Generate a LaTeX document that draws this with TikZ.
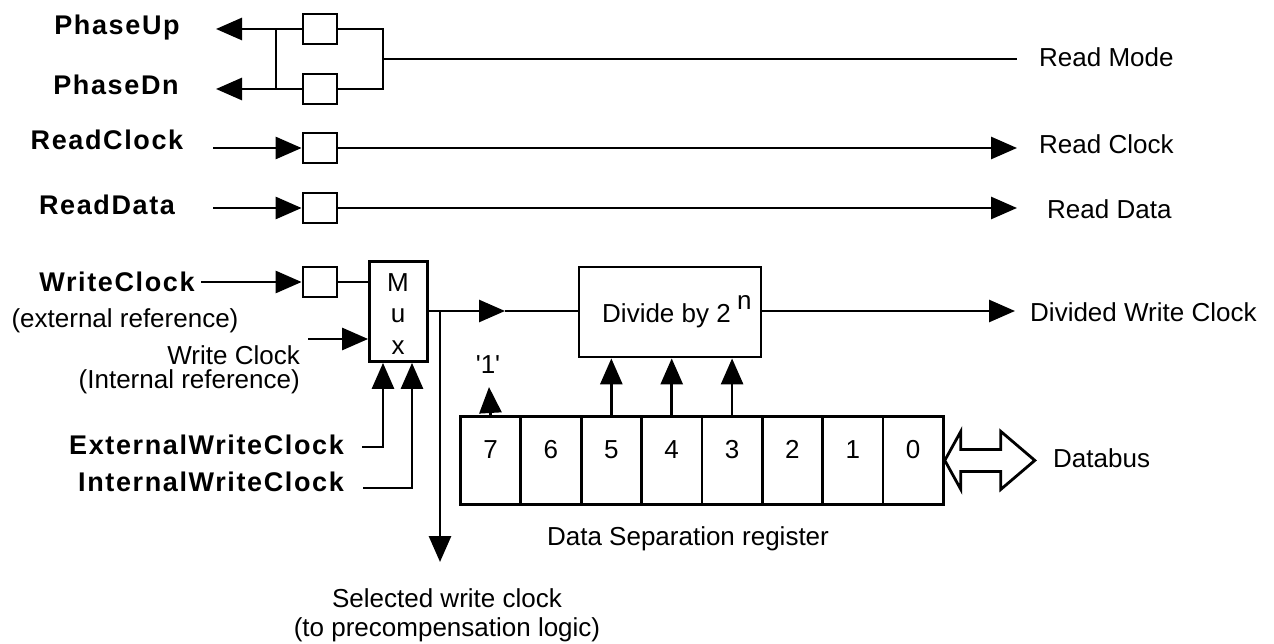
\documentclass[tikz,border=0pt]{standalone}
\usepackage{fontspec}
\setmainfont{Liberation Sans}
\newfontfamily\sigfont[LetterSpace=6]{Liberation Sans Bold}
\usetikzlibrary{arrows.meta}

\begin{document}
\begin{tikzpicture}[x=1pt,y=-1pt,
  wire/.style={line width=2.8pt, line join=miter},
  sig/.style={wire,-{Triangle[length=26pt,width=22pt]}},
  txt/.style={font=\fontsize{26}{30}\selectfont, inner sep=0pt},
  sigtxt/.style={font=\sigfont\fontsize{27}{30}\selectfont, inner sep=0pt},
  latch/.style={draw, wire, minimum width=34pt, minimum height=30pt, inner sep=0pt},
  cell/.style={draw, wire, minimum width=60.375pt, minimum height=88pt, inner sep=0pt, anchor=north west},
]
\useasboundingbox (0,0) rectangle (1274,644);

% ---- latches on the read side
\node[latch] (bU)  at (320,29)  {};
\node[latch] (bD)  at (320,89)  {};
\node[latch] (bRC) at (320,148) {};
\node[latch] (bRD) at (320,208) {};
\node[latch] (bWC) at (320,282) {};

% ---- signal names (left)
\node[sigtxt, anchor=base] (lPU) at (117,35)  {PhaseUp};
\node[sigtxt, anchor=base] (lPD) at (116,95)  {PhaseDn};
\node[sigtxt, anchor=base] (lRC) at (107,150) {ReadClock};
\node[sigtxt, anchor=base] (lRD) at (107,215) {ReadData};
\node[sigtxt, anchor=base] (lWC) at (117,291) {WriteClock};
\node[txt, anchor=base] (lWCx) at (125,327) {(external reference)};
\node[txt, anchor=base east] (lIWC) at (300,364) {Write Clock};
\node[txt, anchor=base east] (lIWCx) at (300,388) {(Internal reference)};
\node[sigtxt, anchor=base east] (lEWC) at (344,454) {ExternalWriteClock};
\node[sigtxt, anchor=base east] (lINC) at (344,491) {InternalWriteClock};

% ---- outputs (right)
\node[txt, anchor=base west] (oRM) at (1039,67)  {Read Mode};
\node[txt, anchor=base west] (oRC) at (1039,154) {Read Clock};
\node[txt, anchor=base west] (oRD) at (1047,219) {Read Data};
\node[txt, anchor=base west] (oDW) at (1030,321) {Divided Write Clock};
\node[txt, anchor=base west] (oDB) at (1053,467) {Databus};

% ---- free ends
\coordinate (tPU) at (216,29);
\coordinate (tPD) at (216,89);
\coordinate (jL)  at (276,29);
\coordinate (jLd) at (276,89);
\coordinate (jR)  at (383,29);
\coordinate (jRd) at (383,89);
\coordinate (jRm) at (383,59);
\coordinate (eRM) at (1017,59);
\coordinate (sRC) at (213,148);
\coordinate (eRC) at (1017,148);
\coordinate (sRD) at (213,208);
\coordinate (eRD) at (1017,208);
\coordinate (sWC) at (201,282);

% ---- phase outputs and read mode
\draw[sig] (bU.west) -- (tPU);
\draw[sig] (bD.west) -- (tPD);
\draw[wire] (jL) -- (jLd);
\draw[wire] (bU.east) -- (jR) -- (jRd) -- (bD.east);
\draw[wire] (jRm) -- (eRM);

% ---- read clock / read data
\draw[sig] (sRC) -- (bRC.west);
\draw[sig] (bRC.east) -- (eRC);
\draw[sig] (sRD) -- (bRD.west);
\draw[sig] (bRD.east) -- (eRD);

% ---- multiplexer
\node[draw, wire, minimum width=58pt, minimum height=100pt, inner sep=0pt] (mux) at (398.5,311.5) {};
\node[txt, anchor=base] (mM) at (398,291) {M};
\node[txt, anchor=base] (mu) at (398,323) {u};
\node[txt, anchor=base] (mx) at (398,354) {x};

\draw[sig] (sWC) -- (bWC.west);
\draw[wire] (bWC.east) -- (bWC.east -| mux.west);
\coordinate (sIW) at (308,339);
\draw[sig] (sIW) -- (sIW -| mux.west);
\coordinate (sEW) at (362,447);
\coordinate (kEW) at (383,447);
\draw[sig] (sEW) -- (kEW) -- (kEW |- mux.south);
\coordinate (sIN) at (363,488);
\coordinate (kIN) at (412,488);
\draw[sig] (sIN) -- (kIN) -- (kIN |- mux.south);

% ---- divider
\node[draw, wire, minimum width=182pt, minimum height=90pt, inner sep=0pt] (div) at (670,312) {};
\node[txt, anchor=base west] (dTxt) at (602,323) {Divide by 2};
\node[txt, anchor=base west] (dExp) at (737,309) {n};

\coordinate (jM) at (440,311);
\coordinate (mA) at (505,311);
\coordinate (eSel) at (440,562);
\draw[wire] (mux.east |- jM) -- (jM);
\draw[sig] (jM) -- (mA);
\draw[wire] (mA) -- (div.west |- mA);
\draw[sig] (jM) -- (eSel);
\draw[sig] (div.east |- mA) -- (1015,311);

% ---- data separation register
\foreach \i/\d in {0/7,1/6,2/5,3/4,4/3,5/2,6/1,7/0}{
  \node[cell] (c\d) at ({459+60.375*\i},415) {};
  \node[txt, anchor=base] (n\d) at ([yshift=-43pt]c\d.north) {\d};
}
\foreach \d in {5,4,3}{
  \draw[sig] (c\d.north) -- (c\d.north |- div.south);
}
\coordinate (e1) at (489,387);
\draw[sig] (c7.north) -- (e1);
\node[txt, anchor=base] (one) at (488,373) {\textquotesingle1\textquotesingle};

% ---- databus (hollow double arrow)
\draw[wire] (c0.east) -- ++(16,-29) -- ++(0,18) -- ++(40,0) -- ++(0,-18)
  -- ++(34,29) -- ++(-34,29) -- ++(0,-18) -- ++(-40,0) -- ++(0,18) -- cycle;

\node[txt, anchor=base] (regName) at (688,545) {Data Separation register};
\node[txt, anchor=base] (selA) at (447,607) {Selected write clock};
\node[txt, anchor=base] (selB) at (447,636) {(to precompensation logic)};
\end{tikzpicture}
\end{document}
